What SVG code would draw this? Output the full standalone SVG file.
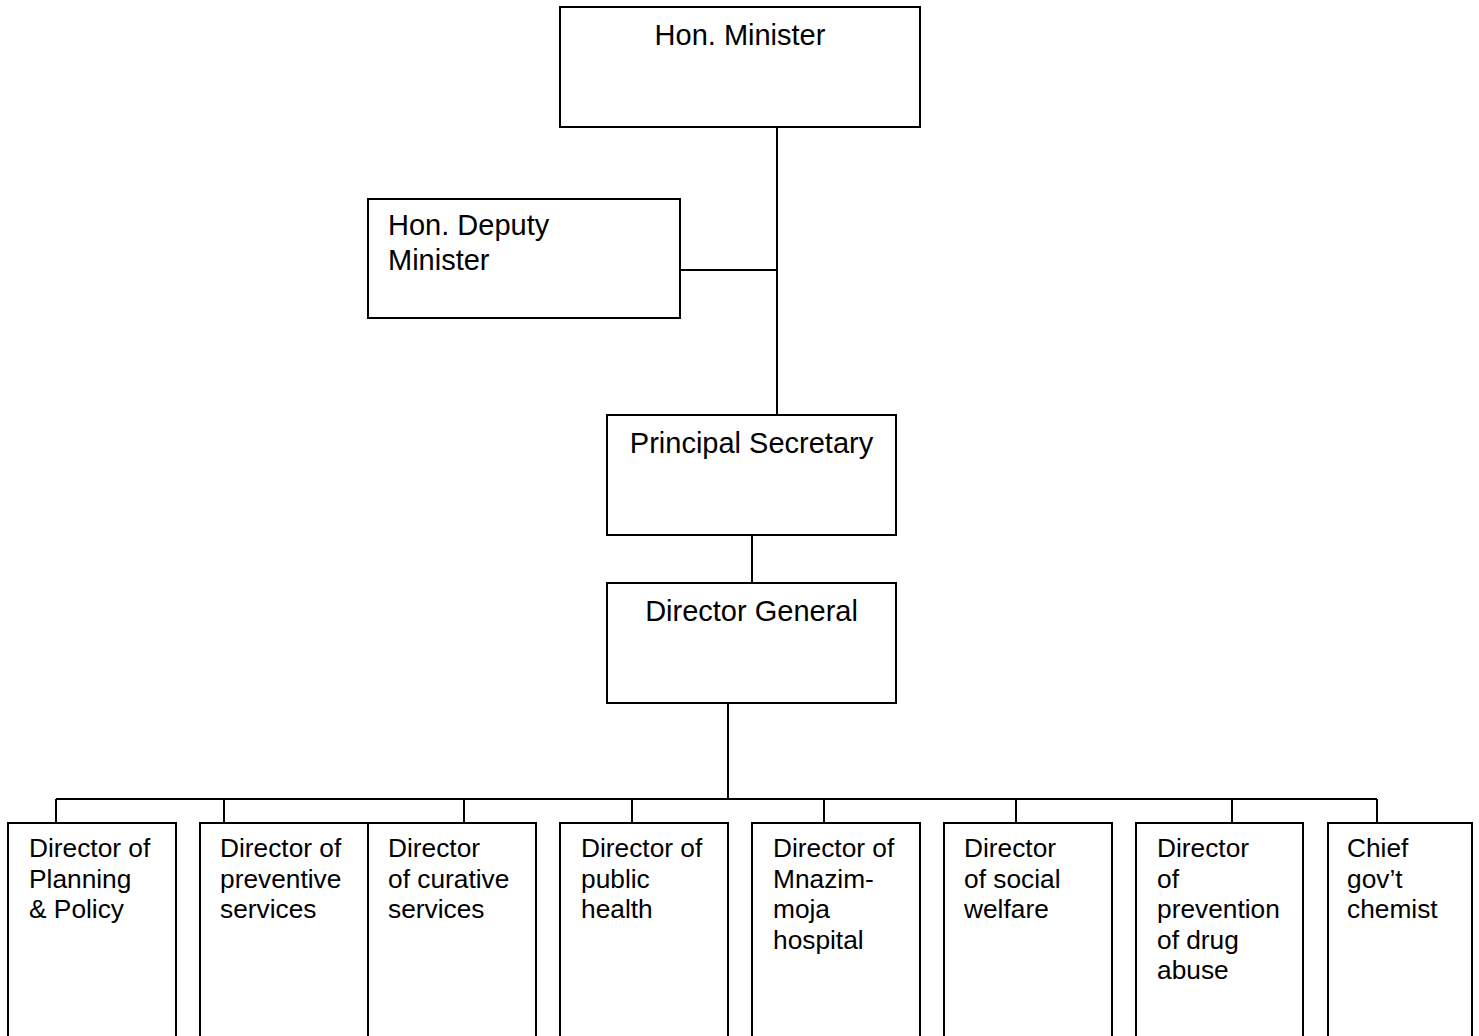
<svg xmlns="http://www.w3.org/2000/svg" width="1479" height="1036" viewBox="0 0 1479 1036">
<style>
.box{fill:#fff;stroke:#000;stroke-width:2}
.ln{fill:none;stroke:#000;stroke-width:2}
.t{font-family:"Liberation Sans",Arial,sans-serif;font-size:29px;fill:#000}
.b{font-family:"Liberation Sans",Arial,sans-serif;font-size:26.3px;fill:#000}
.c{text-anchor:middle}
</style>
<rect width="1479" height="1036" fill="#fff"/>
<g id="connectors">
<path class="ln" d="M777 127 V415 M680 270 H777 M752 535 V583 M728 703 V799 M56 799 H1377 M56 799 V823 M224 799 V823 M464 799 V823 M632 799 V823 M824 799 V823 M1016 799 V823 M1232 799 V823 M1377 799 V823"/>
</g>
<g id="minister"><rect class="box" x="560" y="7" width="360" height="120"/><text class="t c" x="740" y="45">Hon. Minister</text></g>
<g id="deputy"><rect class="box" x="368" y="199" width="312" height="119"/><text class="t" x="388" y="235">Hon. Deputy</text><text class="t" x="388" y="270">Minister</text></g>
<g id="ps"><rect class="box" x="607" y="415" width="289" height="120"/><text class="t c" x="751.5" y="453">Principal Secretary</text></g>
<g id="dg"><rect class="box" x="607" y="583" width="289" height="120"/><text class="t c" x="751.5" y="621">Director General</text></g>
<g id="d1"><rect class="box" x="8" y="823" width="168" height="230"/><text class="b" x="29"><tspan x="29" y="857">Director of</tspan><tspan x="29" y="888">Planning</tspan><tspan x="29" y="918">&amp; Policy</tspan></text></g>
<g id="d2"><rect class="box" x="200" y="823" width="168" height="230"/><text class="b"><tspan x="220" y="857">Director of</tspan><tspan x="220" y="888">preventive</tspan><tspan x="220" y="918">services</tspan></text></g>
<g id="d3"><rect class="box" x="368" y="823" width="168" height="230"/><text class="b"><tspan x="388" y="857">Director</tspan><tspan x="388" y="888">of curative</tspan><tspan x="388" y="918">services</tspan></text></g>
<g id="d4"><rect class="box" x="560" y="823" width="168" height="230"/><text class="b"><tspan x="581" y="857">Director of</tspan><tspan x="581" y="888">public</tspan><tspan x="581" y="918">health</tspan></text></g>
<g id="d5"><rect class="box" x="752" y="823" width="168" height="230"/><text class="b"><tspan x="773" y="857">Director of</tspan><tspan x="773" y="888">Mnazim-</tspan><tspan x="773" y="918">moja</tspan><tspan x="773" y="949">hospital</tspan></text></g>
<g id="d6"><rect class="box" x="944" y="823" width="168" height="230"/><text class="b"><tspan x="964" y="857">Director</tspan><tspan x="964" y="888">of social</tspan><tspan x="964" y="918">welfare</tspan></text></g>
<g id="d7"><rect class="box" x="1136" y="823" width="167" height="230"/><text class="b"><tspan x="1157" y="857">Director</tspan><tspan x="1157" y="888">of</tspan><tspan x="1157" y="918">prevention</tspan><tspan x="1157" y="949">of drug</tspan><tspan x="1157" y="979">abuse</tspan></text></g>
<g id="d8"><rect class="box" x="1328" y="823" width="144" height="230"/><text class="b"><tspan x="1347" y="857">Chief</tspan><tspan x="1347" y="888">gov’t</tspan><tspan x="1347" y="918">chemist</tspan></text></g>
</svg>
